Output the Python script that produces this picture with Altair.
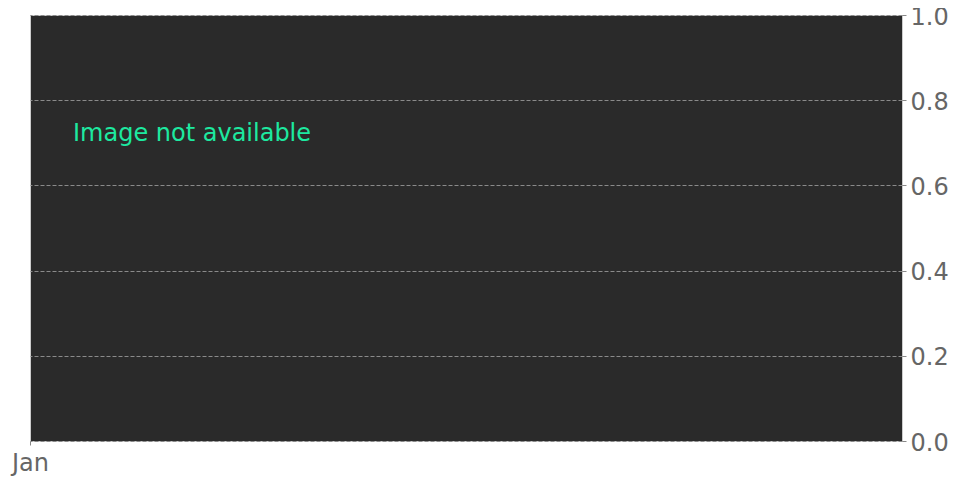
import altair as alt
import pandas as pd

# Data
x_domain = ["2024-01-01", "2024-12-31"]
x_tick_values = ["2024-01-01"]
y_domain = [0, 1]
y_ticks = [0.0, 0.2, 0.4, 0.6, 0.8, 1.0]
note_text = ["Image not available"]
note_x = ["2024-01-19"]
note_y = [0.72]

df = pd.DataFrame({"date": note_x, "value": note_y, "label": note_text})

base = alt.Chart(df)

text = base.mark_text(
    align="left", baseline="middle", font="DejaVu Sans", fontSize=24, color="#1de9a0"
).encode(
    x=alt.X(
        "date:T",
        scale=alt.Scale(domain=x_domain),
        axis=alt.Axis(
            values=x_tick_values, format="%b", title=None, grid=False,
            labelFontSize=24, labelColor="#666666", labelFont="DejaVu Sans",
            tickColor="#888888", tickSize=4, domain=False, labelPadding=6,
            labelFlush=False, labelAlign="center",
        ),
    ),
    y=alt.Y(
        "value:Q",
        scale=alt.Scale(domain=y_domain, nice=False),
        axis=alt.Axis(
            orient="right", values=y_ticks, format=".1f", title=None,
            labelFontSize=24, labelColor="#666666", labelFont="DejaVu Sans",
            tickColor="#888888", tickSize=4, domain=False, labelPadding=4,
            labelFlush=False, labelOffset=2,
            grid=True, gridColor="#8a8a8a", gridDash=[4, 2], gridWidth=1,
        ),
    ),
    text="label:N",
)

chart = text.properties(
    width=872, height=426,
    autosize=alt.AutoSizeParams(type="none"),
    padding={"left": 22, "top": 7, "right": 62, "bottom": 37},
    background="white",
).configure_view(
    fill="#2a2a2a", stroke="#cccccc", strokeWidth=1,
)

chart.save("out.html", embed_options={"renderer": "svg", "actions": False})
